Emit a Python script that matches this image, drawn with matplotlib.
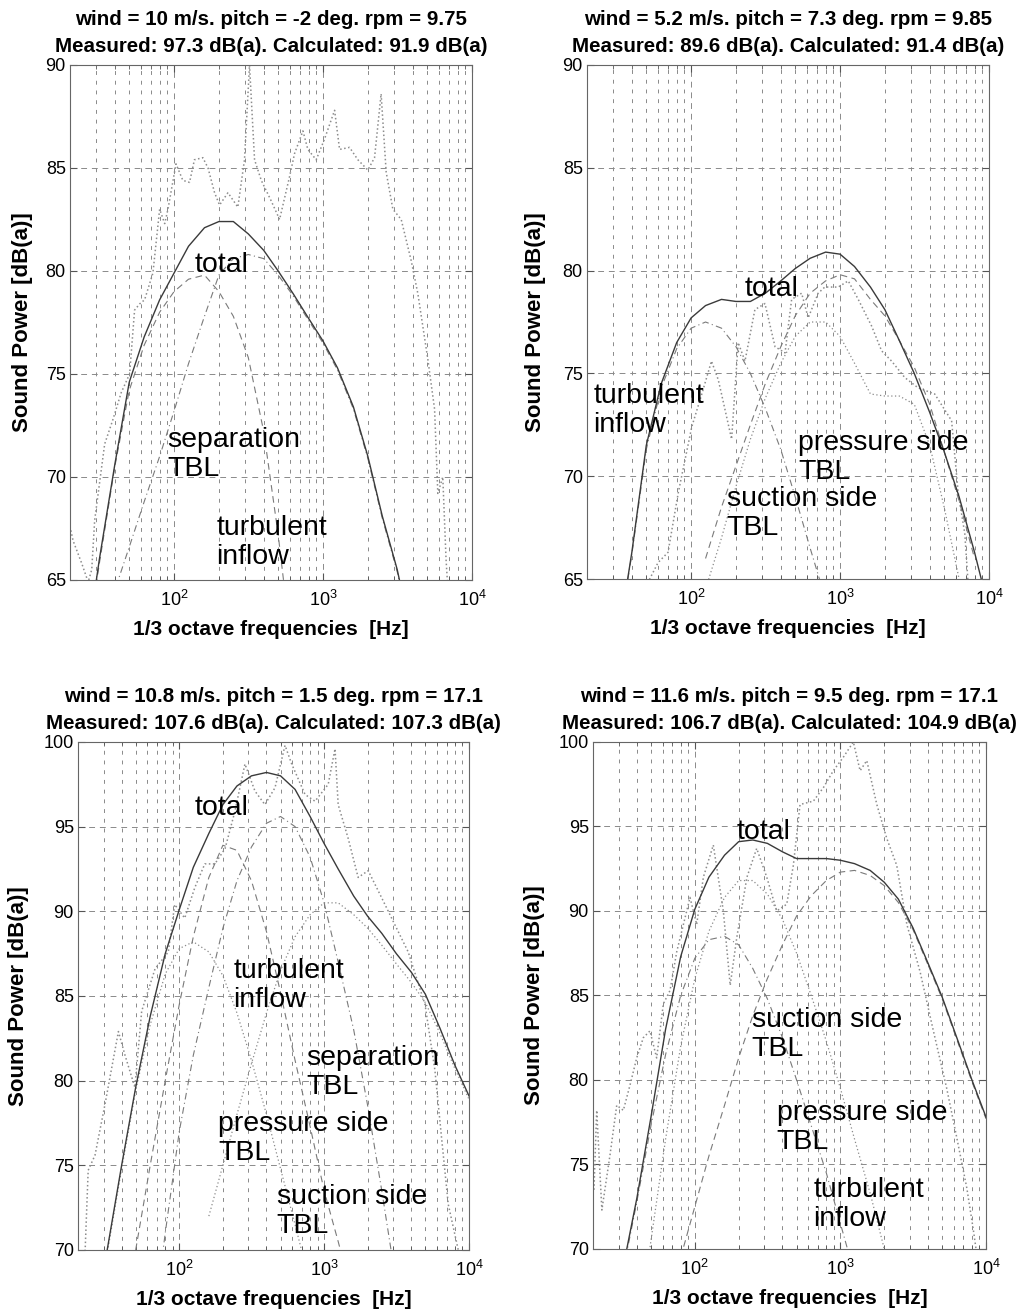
import matplotlib
matplotlib.use('Agg')
import matplotlib.pyplot as plt
from matplotlib.ticker import LogLocator, NullFormatter, MultipleLocator

plt.rcParams['font.family'] = ['Liberation Sans', 'DejaVu Sans']

# ---- panel 1: wind 10 m/s, pitch -2 deg ----
p1_total_f = [25, 31.5, 40, 50, 63, 80, 100, 125, 160, 200, 250, 315, 400, 500, 630, 800,
              1000, 1250, 1600, 2000, 2500, 3150, 4000]
p1_total_db = [61.0, 66.0, 70.6, 74.6, 76.8, 78.6, 79.9, 81.2, 82.1, 82.4, 82.4, 81.8, 81.0, 80.0,
               78.9, 77.7, 76.6, 75.3, 73.4, 71.0, 68.1, 65.5, 62.0]
p1_sep_f = [25, 31.5, 40, 50, 63, 80, 100, 125, 160, 200, 250, 315, 400, 500, 630]
p1_sep_db = [61.0, 65.8, 70.5, 74.2, 76.4, 78.0, 79.0, 79.6, 79.8, 79.0, 77.8, 75.8, 72.2, 67.2, 61.0]
p1_inflow_f = [31.5, 40, 50, 63, 80, 100, 125, 160, 200, 250, 315, 400, 500, 630, 800,
               1000, 1250, 1600, 2000, 2500, 3150, 4000]
p1_inflow_db = [62.0, 64.5, 66.6, 68.8, 71.0, 73.2, 75.5, 77.8, 79.8, 80.6, 80.8, 80.6, 79.8, 78.8,
                77.6, 76.5, 75.2, 73.3, 70.9, 68.0, 65.4, 62.0]
p1_meas_f = [20, 21, 24, 26.5, 28, 29.3, 34.2, 38.9, 44.2, 50.3, 54.3, 58.7, 63.4, 72.1, 80, 86.5,
             91, 103, 114.5, 127, 137, 156, 169, 187, 202, 230, 268, 297, 321, 347, 385, 449,
             511, 597, 644, 733, 791, 900, 1023, 1196, 1292, 1507, 1714, 2000, 2218, 2455, 2655,
             2944, 3350, 3909, 4333, 5058, 5610, 5900, 6370, 6700, 6900]
p1_meas_db = [67.6, 66.9, 65.8, 64.9, 65.5, 67.9, 71.6, 72.8, 74.1, 75.0, 78.1, 78.4, 78.6, 79.9,
              83.0, 82.3, 83.0, 85.2, 84.4, 84.3, 85.4, 85.5, 85.0, 83.8, 83.2, 83.8, 83.1, 85.4,
              90.0, 85.4, 84.4, 83.4, 82.5, 84.6, 85.7, 86.8, 85.9, 85.4, 86.4, 87.8, 85.9, 86.0,
              85.4, 84.9, 85.5, 88.6, 84.8, 83.0, 82.5, 80.5, 78.9, 75.7, 73.3, 69.2, 70.0, 66.0,
              64.5]

# ---- panel 2: wind 5.2 m/s, pitch 7.3 deg ----
p2_total_f = [31.5, 40, 50, 63, 80, 100, 125, 160, 200, 250, 315, 400, 500, 630, 800, 1000,
              1250, 1600, 2000, 2500, 3150, 4000, 5000, 6300, 8000, 10000]
p2_total_db = [61.5, 66.3, 71.5, 74.5, 76.5, 77.7, 78.3, 78.6, 78.5, 78.5, 78.9, 79.5, 80.1, 80.6,
               80.9, 80.8, 80.2, 79.2, 78.1, 76.6, 75.0, 73.1, 71.2, 69.0, 66.3, 63.5]
p2_inflow_f = [31.5, 40, 50, 63, 80, 100, 125, 160, 200, 250, 315, 400, 500, 630, 800]
p2_inflow_db = [61.5, 66.2, 71.3, 74.3, 76.2, 77.2, 77.5, 77.2, 76.3, 75.0, 73.3, 71.3, 69.0, 66.5, 64.0]
p2_press_f = [125, 160, 200, 250, 315, 400, 500, 630, 800, 1000, 1250, 1600, 2000, 2500, 3150,
              4000, 5000, 6300, 8000]
p2_press_db = [66.0, 68.5, 70.5, 72.5, 74.5, 76.3, 77.8, 78.9, 79.5, 79.8, 79.6, 78.6, 77.8, 76.6,
               75.3, 73.5, 71.2, 68.8, 66.0]
p2_suct_f = [100, 125, 160, 200, 250, 315, 400, 500, 630, 800, 1000, 1250, 1600, 2000, 2500,
             3150, 4000, 5000, 6300]
p2_suct_db = [62.0, 64.5, 67.0, 69.5, 71.8, 73.8, 75.5, 76.8, 77.5, 77.5, 76.8, 75.5, 74.0, 73.9,
              73.9, 73.5, 71.5, 68.5, 65.0]
p2_meas_f = [51, 60, 70, 82, 91, 101, 118, 137, 152, 160, 187, 207, 230, 268, 313, 366, 427, 473,
             552, 611, 713, 790, 972, 1135, 1325, 1630, 1900, 2218, 2720, 3340, 4320, 5610, 6210,
             6880, 7240]
p2_meas_db = [64.8, 65.8, 66.3, 69.2, 70.8, 72.4, 74.0, 75.6, 74.7, 74.0, 71.8, 76.5, 75.6, 78.1,
              78.4, 76.3, 76.0, 78.6, 78.9, 77.7, 78.9, 79.2, 79.2, 79.5, 78.6, 77.3, 76.1, 75.6,
              74.8, 74.3, 74.0, 72.7, 69.2, 67.2, 64.8]

# ---- panel 3: wind 10.8 m/s, pitch 1.5 deg ----
p3_total_f = [25, 31.5, 40, 50, 63, 80, 100, 125, 160, 200, 250, 315, 400, 500, 630, 800, 1000,
              1250, 1600, 2000, 2500, 3150, 4000, 5000, 6300, 8000, 10000]
p3_total_db = [64.5, 69.8, 75.0, 79.6, 83.8, 87.5, 90.1, 92.6, 94.6, 96.3, 97.4, 98.0, 98.2, 98.0,
               97.2, 95.6, 94.0, 92.5, 90.9, 89.7, 88.7, 87.5, 86.4, 85.1, 83.1, 80.9, 79.1]
p3_inflow_f = [25, 31.5, 40, 50, 63, 80, 100, 125, 160, 200, 250, 315, 400, 500, 630, 800]
p3_inflow_db = [64.5, 69.6, 74.8, 79.4, 83.3, 86.3, 87.8, 88.2, 87.6, 86.2, 84.0, 81.2, 78.0, 74.8,
                71.5, 68.0]
p3_press_f = [50, 63, 80, 100, 125, 160, 200, 250, 315, 400, 500, 630, 800, 1000, 1250, 1600]
p3_press_db = [70.0, 75.0, 80.0, 84.5, 88.5, 92.0, 93.9, 93.6, 91.8, 88.8, 85.2, 81.2, 77.3, 73.5,
               70.5, 67.0]
p3_suct_f = [63, 80, 100, 125, 160, 200, 250, 315, 400, 500, 630, 800, 1000, 1250, 1600, 2000,
             2500, 3150]
p3_suct_db = [64.0, 71.0, 77.0, 81.5, 85.5, 89.0, 91.8, 93.8, 95.2, 95.6, 95.0, 93.2, 90.5, 87.0,
              83.0, 78.5, 73.5, 68.0]
p3_sep_f = [160, 200, 250, 315, 400, 500, 630, 800, 1000, 1250, 1600, 2000, 2500, 3150, 4000,
            5000, 6300, 8000, 10000]
p3_sep_db = [72.0, 75.0, 78.0, 81.0, 84.0, 86.5, 88.5, 89.8, 90.5, 90.5, 89.8, 89.0, 88.0, 86.9,
             85.8, 84.6, 82.8, 80.7, 78.9]
p3_meas_f = [21, 22.4, 23.5, 26.2, 30.7, 38, 42.2, 49.4, 55, 68, 84, 93, 109, 128, 150, 176, 207,
             242, 284, 333, 390, 458, 537, 597, 738, 865, 1067, 1189, 1250, 1466, 1717, 2015, 2495,
             3080, 3805, 4970, 5820, 6470, 7190, 8430, 8800]
p3_meas_db = [69.0, 70.0, 74.7, 75.6, 78.6, 82.9, 81.5, 79.6, 84.1, 86.6, 87.6, 90.4, 89.6, 91.4,
              92.8, 92.8, 93.7, 95.9, 98.7, 97.1, 96.3, 97.3, 99.8, 98.7, 96.9, 96.5, 97.5, 99.6,
              96.3, 94.3, 92.0, 92.4, 90.8, 89.2, 87.6, 84.5, 80.6, 76.6, 72.7, 70.0, 69.5]

# ---- panel 4: wind 11.6 m/s, pitch 9.5 deg ----
p4_total_f = [25, 31.5, 40, 50, 63, 80, 100, 125, 160, 200, 250, 315, 400, 500, 630, 800, 1000,
              1250, 1600, 2000, 2500, 3150, 4000, 5000, 6300, 8000, 10000]
p4_total_db = [64.5, 68.5, 73.0, 77.8, 83.0, 87.3, 90.1, 92.0, 93.3, 94.1, 94.2, 94.0, 93.5, 93.1,
               93.1, 93.1, 93.0, 92.8, 92.4, 91.7, 90.7, 89.0, 86.9, 84.9, 82.5, 80.0, 77.8]
p4_suct_f = [80, 100, 125, 160, 200, 250, 315, 400, 500, 630, 800, 1000, 1250, 1600, 2000, 2500,
             3150, 4000, 5000, 6300, 8000, 10000]
p4_suct_db = [69.5, 72.5, 75.5, 78.5, 81.3, 83.8, 86.0, 88.0, 89.7, 90.9, 91.8, 92.3, 92.4, 92.1,
              91.5, 90.5, 88.9, 86.8, 84.8, 82.4, 79.9, 77.7]
p4_press_f = [40, 50, 63, 80, 100, 125, 160, 200, 250, 315, 400, 500, 630, 800, 1000, 1250, 1600,
              2000, 2500]
p4_press_db = [64.5, 70.5, 76.5, 82.0, 86.0, 88.8, 90.8, 91.8, 91.8, 91.0, 89.5, 87.5, 85.0, 82.3,
               79.5, 76.5, 73.3, 70.0, 66.5]
p4_inflow_f = [25, 31.5, 40, 50, 63, 80, 100, 125, 160, 200, 250, 315, 400, 500, 630, 800, 1000,
               1250]
p4_inflow_db = [64.0, 68.3, 72.8, 77.3, 81.5, 85.0, 87.2, 88.3, 88.5, 88.0, 86.6, 84.8, 82.5, 80.0,
                77.3, 74.5, 71.5, 68.5]
p4_meas_f = [20.3, 21.2, 23, 26.2, 29.1, 32.3, 35.9, 39.9, 44.3, 49.2, 54.7, 60.8, 67.6, 75.2,
             92.7, 103, 114.5, 134, 157, 175, 194, 228, 266, 312, 365, 428, 475, 528, 652, 764,
             894, 1047, 1227, 1365, 1517, 1778, 2080, 2436, 2860, 3525, 4350, 5370, 6290, 7380,
             8190, 8600]
p4_meas_db = [73.5, 78.2, 72.3, 75.6, 78.5, 78.2, 79.7, 81.3, 82.5, 82.9, 81.3, 84.5, 85.3, 87.6,
              90.8, 89.2, 92.0, 93.9, 90.0, 85.6, 88.4, 92.0, 93.7, 92.0, 90.0, 90.4, 92.7, 96.3,
              96.5, 97.3, 98.3, 99.1, 100.0, 98.3, 98.9, 96.3, 94.3, 92.7, 89.2, 86.4, 82.9, 79.5,
              76.6, 73.6, 71.1, 69.8]

titles = [
    'wind = 10 m/s. pitch = -2 deg. rpm = 9.75\nMeasured: 97.3 dB(a). Calculated: 91.9 dB(a)',
    'wind = 5.2 m/s. pitch = 7.3 deg. rpm = 9.85\nMeasured: 89.6 dB(a). Calculated: 91.4 dB(a)',
    'wind = 10.8 m/s. pitch = 1.5 deg. rpm = 17.1\nMeasured: 107.6 dB(a). Calculated: 107.3 dB(a)',
    'wind = 11.6 m/s. pitch = 9.5 deg. rpm = 17.1\nMeasured: 106.7 dB(a). Calculated: 104.9 dB(a)',
]
ylims = [(65, 90), (65, 90), (70, 100), (70, 100)]

fig = plt.figure(figsize=(10.2, 13.13), dpi=100)
axes = [
    fig.add_axes([0.0686, 0.5583, 0.3941, 0.3922]),
    fig.add_axes([0.5755, 0.5590, 0.3941, 0.3915]),
    fig.add_axes([0.0765, 0.0480, 0.3833, 0.3869]),
    fig.add_axes([0.5814, 0.0488, 0.3853, 0.3861]),
]
ylabel_x = [-0.119, -0.127, -0.153, -0.148]

tot_kw = dict(color='#3a3a3a', lw=1.0, ls='-')
meas_kw = dict(color='#8c8c8c', lw=1.1, ls=':')
comp_styles = {'dash': dict(color='#7a7a7a', lw=0.8, ls=(0, (6, 4))),
               'dashdot': dict(color='#7a7a7a', lw=0.8, ls=(0, (6, 3, 1, 3))),
               'dot': dict(color='#8a8a8a', lw=0.9, ls=(0, (1, 2)))}

for i, ax in enumerate(axes):
    ax.set_xscale('log')
    ax.set_xlim(20, 10000)
    ax.set_ylim(*ylims[i])
    ax.yaxis.set_major_locator(MultipleLocator(5))
    ax.xaxis.set_major_locator(LogLocator(base=10))
    ax.xaxis.set_minor_locator(LogLocator(base=10, subs=range(2, 10)))
    ax.xaxis.set_minor_formatter(NullFormatter())
    ax.grid(True, which='major', axis='both', color='#8a8a8a', lw=0.7, ls=(0, (6, 5)))
    ax.grid(True, which='minor', axis='x', color='#8a8a8a', lw=0.7, ls=(0, (4, 6)))
    ax.tick_params(which='both', direction='in', top=True, right=True, colors='#555555',
                   labelcolor='black')
    ax.tick_params(which='major', length=5, labelsize=13)
    ax.tick_params(which='minor', length=3)
    ax.tick_params(axis='y', pad=3)
    ax.tick_params(axis='x', pad=7)
    for sp in ax.spines.values():
        sp.set_color('#666666')
        sp.set_linewidth(0.8)
    ax.set_title(titles[i], fontsize=14.8, fontweight='bold', linespacing=1.55, pad=9)
    ax.set_xlabel('1/3 octave frequencies  [Hz]', fontsize=15, fontweight='bold')
    ax.xaxis.set_label_coords(0.5, -0.097)
    ax.xaxis.label.set_va('center')
    ax.set_ylabel('Sound Power [dB(a)]', fontsize=16, fontweight='bold')
    ax.yaxis.set_label_coords(ylabel_x[i], 0.5)
    ax.yaxis.label.set_va('center')

lab = dict(fontsize=20.5, ha='left', va='center', linespacing=1.15, color='black')

ax = axes[0]
ax.plot(p1_meas_f, p1_meas_db, **meas_kw)
ax.plot(p1_sep_f, p1_sep_db, **comp_styles['dash'])
ax.plot(p1_inflow_f, p1_inflow_db, **comp_styles['dashdot'])
ax.plot(p1_total_f, p1_total_db, **tot_kw)
ax.text(137, 80.3, 'total', **lab)
ax.text(89.6, 71.1, 'separation\nTBL', **lab)
ax.text(193, 66.8, 'turbulent\ninflow', **lab)

ax = axes[1]
ax.plot(p2_meas_f, p2_meas_db, **meas_kw)
ax.plot(p2_inflow_f, p2_inflow_db, **comp_styles['dashdot'])
ax.plot(p2_press_f, p2_press_db, **comp_styles['dash'])
ax.plot(p2_suct_f, p2_suct_db, **comp_styles['dot'])
ax.plot(p2_total_f, p2_total_db, **tot_kw)
ax.text(230, 79.1, 'total', **lab)
ax.text(22, 73.2, 'turbulent\ninflow', **lab)
ax.text(524, 70.9, 'pressure side\nTBL', **lab)
ax.text(173, 68.2, 'suction side\nTBL', **lab)

ax = axes[2]
ax.plot(p3_meas_f, p3_meas_db, **meas_kw)
ax.plot(p3_inflow_f, p3_inflow_db, **comp_styles['dot'])
ax.plot(p3_press_f, p3_press_db, **comp_styles['dash'])
ax.plot(p3_suct_f, p3_suct_db, **comp_styles['dashdot'])
ax.plot(p3_sep_f, p3_sep_db, **comp_styles['dot'])
ax.plot(p3_total_f, p3_total_db, **tot_kw)
ax.text(128, 96.1, 'total', **lab)
ax.text(236, 85.6, 'turbulent\ninflow', **lab)
ax.text(757, 80.5, 'separation\nTBL', **lab)
ax.text(186, 76.6, 'pressure side\nTBL', **lab)
ax.text(470, 72.3, 'suction side\nTBL', **lab)

ax = axes[3]
ax.plot(p4_meas_f, p4_meas_db, **meas_kw)
ax.plot(p4_suct_f, p4_suct_db, **comp_styles['dash'])
ax.plot(p4_press_f, p4_press_db, **comp_styles['dot'])
ax.plot(p4_inflow_f, p4_inflow_db, **comp_styles['dashdot'])
ax.plot(p4_total_f, p4_total_db, **tot_kw)
ax.text(194, 94.7, 'total', **lab)
ax.text(246, 82.7, 'suction side\nTBL', **lab)
ax.text(366, 77.2, 'pressure side\nTBL', **lab)
ax.text(652, 72.6, 'turbulent\ninflow', **lab)

fig.savefig('out.png', dpi=100)
